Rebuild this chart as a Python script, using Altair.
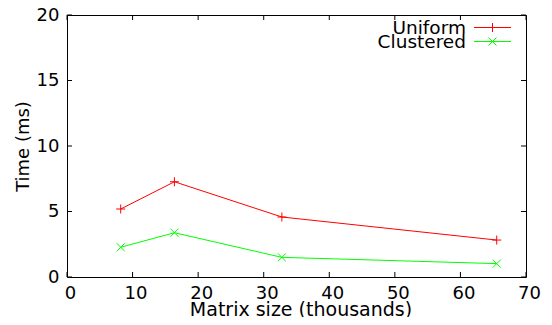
import altair as alt
import pandas as pd

# Data
matrix_size = [8.192, 16.384, 32.768, 65.536]
uniform = [5.19, 7.27, 4.58, 2.82]
clustered = [2.27, 3.38, 1.50, 1.02]
series_names = ["Uniform", "Clustered"]
series_colors = ["#ff0000", "#00ff00"]
x_ticks = [0, 10, 20, 30, 40, 50, 60, 70]
y_ticks = [0, 5, 10, 15, 20]

W, H = 459, 262
FONT = "DejaVu Sans"
TICK = 5

df = pd.DataFrame({
    "x": matrix_size * 2,
    "y": uniform + clustered,
    "series": [series_names[0]] * 4 + [series_names[1]] * 4,
})

xs = alt.Scale(domain=[0, 70], nice=False, zero=False)
ys = alt.Scale(domain=[0, 20], nice=False, zero=False)
cs = alt.Scale(domain=series_names, range=series_colors)

PLUS = "M-1,0L1,0M0,-1L0,1"
CROSS = "M-1,-1L1,1M-1,1L1,-1"

base = alt.Chart(df)

lines = base.mark_line(strokeWidth=1, clip=True).encode(
    x=alt.X("x:Q", scale=xs, axis=alt.Axis(
        values=x_ticks, title="Matrix size (thousands)", ticks=False, domain=False,
        grid=False, labelPadding=7, labelOffset=3, labelFlush=False,
        labelFontSize=18, titleFontSize=19,
        labelFont=FONT, titleFont=FONT, titleFontWeight="normal", labelColor="black",
        titleColor="black", titlePadding=-2, titleX=W / 2 + 4)),
    y=alt.Y("y:Q", scale=ys, axis=alt.Axis(
        values=y_ticks, title="Time (ms)", ticks=False, domain=False, grid=False,
        labelPadding=8, labelFlush=False, labelFontSize=18, titleFontSize=18,
        labelFont=FONT, titleFont=FONT, titleFontWeight="normal", labelColor="black",
        titleColor="black", titlePadding=4)),
    color=alt.Color("series:N", scale=cs, legend=None),
    detail="series:N",
)

pts_u = alt.Chart(df[df.series == "Uniform"]).mark_point(
    shape=PLUS, size=81, filled=False, strokeWidth=1, opacity=1, color=series_colors[0]
).encode(x=alt.X("x:Q", scale=xs), y=alt.Y("y:Q", scale=ys))

pts_c = alt.Chart(df[df.series == "Clustered"]).mark_point(
    shape=CROSS, size=64, filled=False, strokeWidth=1, opacity=1, color=series_colors[1]
).encode(x=alt.X("x:Q", scale=xs), y=alt.Y("y:Q", scale=ys))

# inside ticks, all four sides
ytdf = pd.DataFrame({"v": y_ticks})
xtdf = pd.DataFrame({"v": x_ticks})
yt_left = alt.Chart(ytdf).mark_rule(color="black", strokeWidth=1).encode(
    y=alt.Y("v:Q", scale=ys), x=alt.value(0), x2=alt.value(TICK))
yt_right = alt.Chart(ytdf).mark_rule(color="black", strokeWidth=1).encode(
    y=alt.Y("v:Q", scale=ys), x=alt.value(W - TICK), x2=alt.value(W))
xt_bot = alt.Chart(xtdf).mark_rule(color="black", strokeWidth=1).encode(
    x=alt.X("v:Q", scale=xs), y=alt.value(H - TICK), y2=alt.value(H))
xt_top = alt.Chart(xtdf).mark_rule(color="black", strokeWidth=1).encode(
    x=alt.X("v:Q", scale=xs), y=alt.value(0), y2=alt.value(TICK))

# manual gnuplot-style legend (label left, sample right)
leg_layers = []
leg_y = [12.5, 26.5]
shapes = [(PLUS, 81), (CROSS, 64)]
for i, name in enumerate(series_names):
    ld = pd.DataFrame({"label": [name]})
    leg_layers.append(alt.Chart(ld).mark_text(
        align="right", baseline="middle", font=FONT, fontSize=18.5, color="black"
    ).encode(text="label:N", x=alt.value(399), y=alt.value(leg_y[i])))
    leg_layers.append(alt.Chart(ld).mark_rule(color=series_colors[i], strokeWidth=1).encode(
        x=alt.value(407), x2=alt.value(444), y=alt.value(leg_y[i])))
    leg_layers.append(alt.Chart(ld).mark_point(
        shape=shapes[i][0], size=shapes[i][1], filled=False, strokeWidth=1,
        opacity=1, color=series_colors[i]
    ).encode(x=alt.value(425.5), y=alt.value(leg_y[i])))

chart = alt.layer(
    lines, pts_u, pts_c, yt_left, yt_right, xt_bot, xt_top, *leg_layers
).properties(
    width=W, height=H,
    autosize=alt.AutoSizeParams(type="none"),
    padding={"left": 59, "top": 7, "right": 18, "bottom": 40},
    background="white",
).configure_view(stroke="black", strokeWidth=1)

chart.save("out.html", embed_options={"renderer": "svg", "actions": False})
